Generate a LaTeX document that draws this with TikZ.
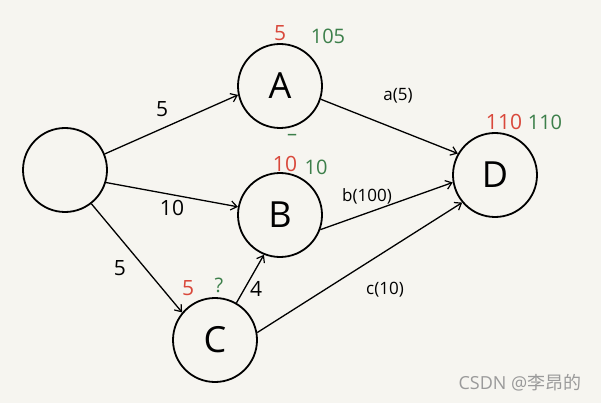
\documentclass[tikz,border=0pt]{standalone}
\usepackage{fontspec}
\setmainfont{Open Sans}
\newfontfamily\cjk{Noto Sans CJK SC}
\usetikzlibrary{arrows.meta}
\definecolor{bg}{HTML}{F6F5F0}
\definecolor{hred}{HTML}{D9483B}
\definecolor{hgreen}{HTML}{3C7F4A}
\definecolor{wm}{HTML}{9A9A9A}
\newcommand{\light}{\fontseries{l}}
\tikzset{
  vtx/.style={circle, draw=black, line width=1.8pt, minimum size=84pt, inner sep=0pt, font=\fontsize{36}{38}\selectfont\light},
  edge/.style={line width=1.3pt, -{Straight Barb[length=6pt,width=9pt,line width=1.2pt]}},
  elab/.style={font=\fontsize{21}{23}\selectfont\light},
  slab/.style={font=\fontsize{17}{19}\selectfont\light},
  rlab/.style={text=hred, font=\fontsize{21}{23}\selectfont\light},
  glab/.style={text=hgreen, font=\fontsize{20}{22}\selectfont\light},
}
\begin{document}
\begin{tikzpicture}[x=1pt,y=-1pt]
\fill[bg] (0,0) rectangle (601,403);
\useasboundingbox (0,0) rectangle (601,403);
\node[vtx] (S) at (65,170) {};
\node[vtx] (A) at (280,86) {A};
\node[vtx] (B) at (280,215) {B};
\node[vtx] (C) at (215,340) {C};
\node[vtx] (D) at (495,175) {D};
\draw[edge] (S.22) -- (A.192);
\draw[edge] (S.-17) -- (B.169);
\draw[edge] (S.-52) -- (C.140);
\draw[edge] (C.60) -- (B.-112);
\draw[edge] (A.-18) -- (D.150);
\draw[edge] (B.-20) -- (D.190);
\draw[edge] (C.10) -- (D.220);
\node[elab] (l1) at (162,109) {5};
\node[elab] (l2) at (172,208) {10};
\node[elab] (l3) at (120,268) {5};
\node[elab] (l4) at (256,289) {4};
\node[slab] (l5) at (398,96) {a(5)};
\node[slab] (l6) at (367,196) {b(100)};
\node[slab] (l7) at (385,290) {c(10)};
\node[rlab] (ar) at (280,33) {5};
\node[glab] (ag) at (328,36) {105};
\node[glab] (au) at (292,137) {–};
\node[rlab] (br) at (285,164) {10};
\node[glab] (bg) at (316,167) {10};
\node[rlab] (cr) at (188,288) {5};
\node[glab] (cg) at (219,285) {?};
\node[rlab] (dr) at (504,122) {110};
\node[glab] (dg) at (545,122) {110};
\node[text=wm, font=\fontsize{18}{20}\selectfont] (wm) at (520,383) {CSDN @{\cjk 李昂的}};
\end{tikzpicture}
\end{document}
